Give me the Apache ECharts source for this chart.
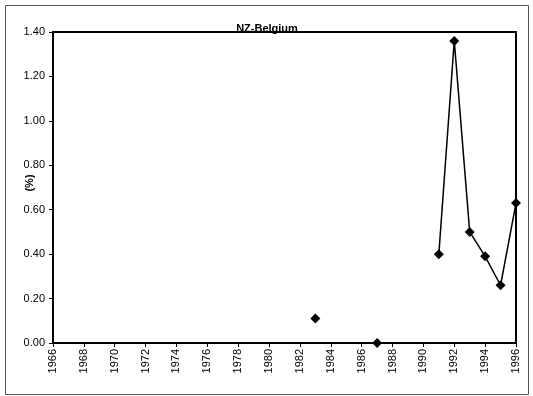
<!DOCTYPE html>
<html><head><meta charset="utf-8">
<script src="https://cdn.jsdelivr.net/npm/echarts@6/dist/echarts.min.js"></script>
<style>html,body{margin:0;padding:0;background:#fff}#c{width:533px;height:396px}</style>
</head><body><div id="c"></div>
<script>
const title = "NZ-Belgium";
const yName = "(%)";
const years = [1983, 1984, 1985, 1986, 1987, 1988, 1989, 1990, 1991, 1992, 1993, 1994, 1995, 1996];
const values = [0.11, null, null, null, 0.00, null, null, null, 0.40, 1.36, 0.50, 0.39, 0.26, 0.63];

const chart = echarts.init(document.getElementById('c'), null, {renderer: 'canvas'});
chart.setOption({
  animation: false,
  backgroundColor: '#fff',
  title: {text: title, left: 262, top: 18, textAlign: 'center',
    textStyle: {fontFamily: 'Liberation Sans, Arial', fontSize: 11, fontWeight: 'bold', color: '#000'}},
  graphic: [
    {type: 'rect', shape: {x: 5.5, y: 5.5, width: 523, height: 389},
      style: {fill: null, stroke: '#555', lineWidth: 1}, silent: true},
    {type: 'text', x: 30, y: 183, rotation: Math.PI / 2,
      style: {text: yName, fontFamily: 'Liberation Sans, Arial', fontSize: 11, fontWeight: 'bold',
        fill: '#000', align: 'center', verticalAlign: 'middle'}, silent: true}
  ],
  grid: {left: 53, right: 17, top: 32, bottom: 53, show: true, borderColor: '#000', borderWidth: 2},
  xAxis: {type: 'value', min: 1966, max: 1996, interval: 2,
    axisLine: {show: true, lineStyle: {color: '#000', width: 2}},
    axisTick: {show: true, length: 4, lineStyle: {color: '#000'}},
    splitLine: {show: false},
    axisLabel: {rotate: 90, fontFamily: 'Liberation Sans, Arial', fontSize: 11, color: '#000', margin: 6,
      formatter: v => String(v)}},
  yAxis: {type: 'value', min: 0, max: 1.4, interval: 0.2,
    axisLine: {show: true, lineStyle: {color: '#000', width: 2}},
    axisTick: {show: true, length: 4, lineStyle: {color: '#000'}},
    splitLine: {show: false},
    axisLabel: {fontFamily: 'Liberation Sans, Arial', fontSize: 11, color: '#000', margin: 8,
      formatter: v => v.toFixed(2)}},
  series: [{type: 'line', data: years.map((y, i) => [y, values[i]]),
    connectNulls: false, symbol: 'diamond', symbolSize: 10, showAllSymbol: true,
    lineStyle: {color: '#000', width: 1.5}, itemStyle: {color: '#000'}}]
});
</script></body></html>
